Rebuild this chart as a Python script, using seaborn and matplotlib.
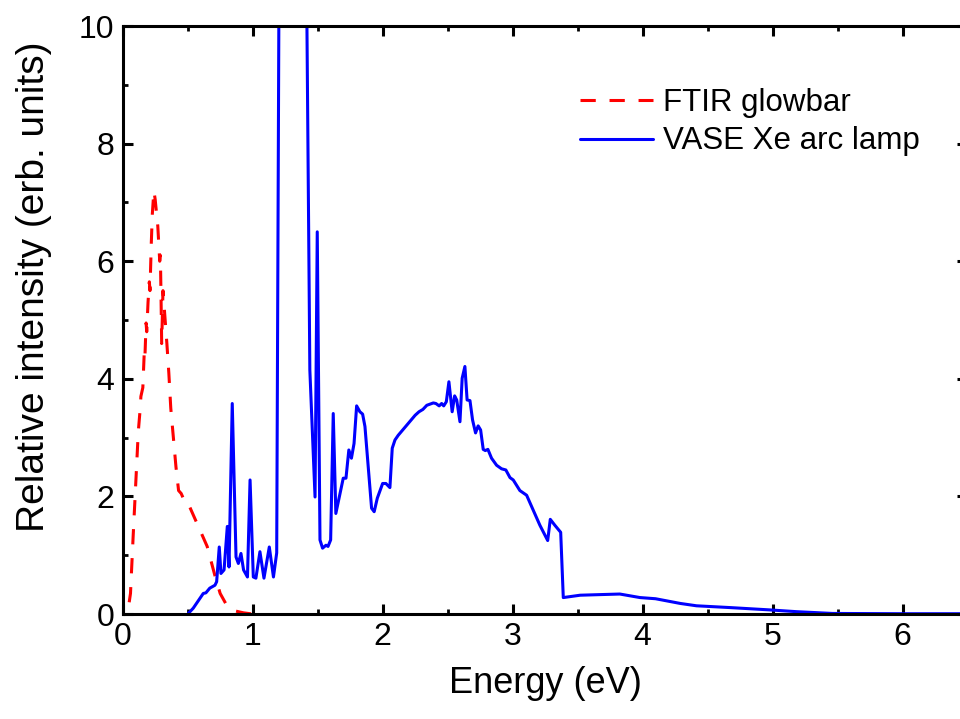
import numpy as np
import pandas as pd
import matplotlib
matplotlib.use("Agg")
import matplotlib.pyplot as plt
import seaborn as sns
from matplotlib.ticker import MultipleLocator

# ---------------- data ----------------
ftir_energy = [0.05, 0.06, 0.08, 0.10, 0.12, 0.135, 0.14, 0.155, 0.165, 0.17, 0.18, 0.185,
               0.195, 0.205, 0.21, 0.22, 0.228, 0.24, 0.25, 0.27, 0.285, 0.29, 0.295, 0.30,
               0.31, 0.32, 0.34, 0.355, 0.37, 0.39, 0.41, 0.43, 0.45, 0.47, 0.49, 0.52,
               0.57, 0.65, 0.71, 0.75, 0.80, 0.85, 0.93, 1.00]
ftir_intensity = [0.2, 0.35, 1.3, 2.2, 3.1, 3.5, 3.7, 3.85, 4.4, 4.3, 4.95, 4.8,
                  5.3, 5.65, 5.5, 6.3, 6.8, 7.2, 7.05, 6.6, 6.0, 6.1, 5.4, 4.6,
                  5.5, 5.2, 4.6, 4.1, 3.5, 3.0, 2.5, 2.1, 2.05, 1.95, 1.95, 1.8,
                  1.55, 1.15, 0.65, 0.35, 0.15, 0.06, 0.02, 0.0]

vase_energy = [0.505, 0.543, 0.62, 0.64, 0.67, 0.71, 0.723, 0.743, 0.756, 0.78, 0.805, 0.818,
               0.843, 0.872, 0.89, 0.91, 0.93, 0.96, 0.98, 1.005, 1.025, 1.056, 1.087, 1.128,
               1.16, 1.185, 1.205, 1.41, 1.44, 1.48, 1.497, 1.518, 1.538, 1.564, 1.58, 1.60,
               1.62, 1.64, 1.697, 1.718, 1.74, 1.76, 1.78, 1.80, 1.825, 1.846, 1.864, 1.915,
               1.935, 1.959, 2.0, 2.025, 2.056, 2.074, 2.095, 2.12, 2.185, 2.25, 2.28, 2.31,
               2.34, 2.39, 2.41, 2.435, 2.454, 2.47, 2.49, 2.51, 2.535, 2.554, 2.57, 2.595,
               2.612, 2.633, 2.65, 2.672, 2.692, 2.715, 2.735, 2.754, 2.774, 2.79, 2.81, 2.838,
               2.877, 2.915, 2.948, 2.98, 3.005, 3.056, 3.108, 3.158, 3.21, 3.27, 3.29, 3.325,
               3.37, 3.39, 3.52, 3.67, 3.825, 3.98, 4.1, 4.29, 4.415, 4.67, 4.98, 5.185,
               5.46, 6.0, 6.5]
vase_intensity = [0.01, 0.1, 0.35, 0.36, 0.44, 0.49, 0.55, 1.14, 0.69, 0.75, 1.49, 0.8,
                  3.58, 0.97, 0.86, 1.03, 0.75, 0.63, 2.28, 0.63, 0.61, 1.06, 0.61, 1.14,
                  0.63, 1.04, 12.0, 12.0, 4.15, 1.99, 6.5, 1.26, 1.12, 1.17, 1.15, 1.26,
                  3.41, 1.71, 2.31, 2.31, 2.79, 2.65, 2.9, 3.54, 3.44, 3.4, 3.19, 1.8,
                  1.74, 1.97, 2.22, 2.22, 2.15, 2.82, 2.96, 3.04, 3.21, 3.38, 3.44, 3.48,
                  3.55, 3.59, 3.58, 3.54, 3.58, 3.54, 3.61, 3.95, 3.44, 3.71, 3.64, 3.27,
                  4.01, 4.21, 3.64, 3.63, 3.3, 3.08, 3.2, 3.13, 2.8, 2.78, 2.8, 2.65,
                  2.53, 2.47, 2.45, 2.32, 2.28, 2.1, 2.02, 1.77, 1.51, 1.25, 1.61, 1.51,
                  1.39, 0.28, 0.32, 0.33, 0.34, 0.28, 0.26, 0.18, 0.14, 0.11, 0.07, 0.04,
                  0.01, 0.005, 0.005]

series_labels = ["FTIR glowbar", "VASE Xe arc lamp"]
x_label = "Energy (eV)"
y_label = "Relative intensity (erb. units)"

# ---------------- style ----------------
sns.set_style("ticks")
plt.rcParams["font.family"] = ["Liberation Sans", "DejaVu Sans"]
plt.rcParams["text.color"] = "black"
plt.rcParams["axes.labelcolor"] = "black"
plt.rcParams["xtick.color"] = "black"
plt.rcParams["ytick.color"] = "black"

fig = plt.figure(figsize=(9.6, 7.19), dpi=100)
ax = fig.add_axes([0.1278, 0.146, 0.880, 0.8178])

df_ftir = pd.DataFrame({"E": ftir_energy, "I": ftir_intensity})
df_vase = pd.DataFrame({"E": vase_energy, "I": vase_intensity})

sns.lineplot(data=df_ftir, x="E", y="I", ax=ax, color="#ff0000", lw=2.2,
             linestyle=(0, (5, 4.5)), sort=False, estimator=None, label=series_labels[0])
sns.lineplot(data=df_vase, x="E", y="I", ax=ax, color="#0000ff", lw=2.2,
             sort=False, estimator=None, label=series_labels[1])

ax.set_xlim(0, 6.5)
ax.set_ylim(0, 10)
ax.xaxis.set_major_locator(MultipleLocator(1))
ax.xaxis.set_minor_locator(MultipleLocator(0.5))
ax.yaxis.set_major_locator(MultipleLocator(2))
ax.yaxis.set_minor_locator(MultipleLocator(1))

for s in ax.spines.values():
    s.set_linewidth(2.2)
    s.set_color("black")
ax.tick_params(which="both", direction="in", top=True, right=True, colors="black",
               labelcolor="black")
ax.tick_params(which="major", length=7, width=2.2, labelsize=23, pad=6)
ax.tick_params(which="minor", length=3.5, width=2.0)

ax.set_xlabel(x_label, fontsize=26, labelpad=10, color="black")
ax.set_ylabel(y_label, fontsize=28, color="black")
ax.yaxis.set_label_coords(-0.084, 0.556)

leg = ax.legend(loc="upper left", bbox_to_anchor=(0.604, 0.878), bbox_transform=fig.transFigure,
                frameon=False, fontsize=22.5, handlelength=2.35, handletextpad=0.3,
                labelspacing=0.28, borderpad=0, borderaxespad=0)
for t in leg.get_texts():
    t.set_color("black")

fig.savefig("out.png", dpi=100)
